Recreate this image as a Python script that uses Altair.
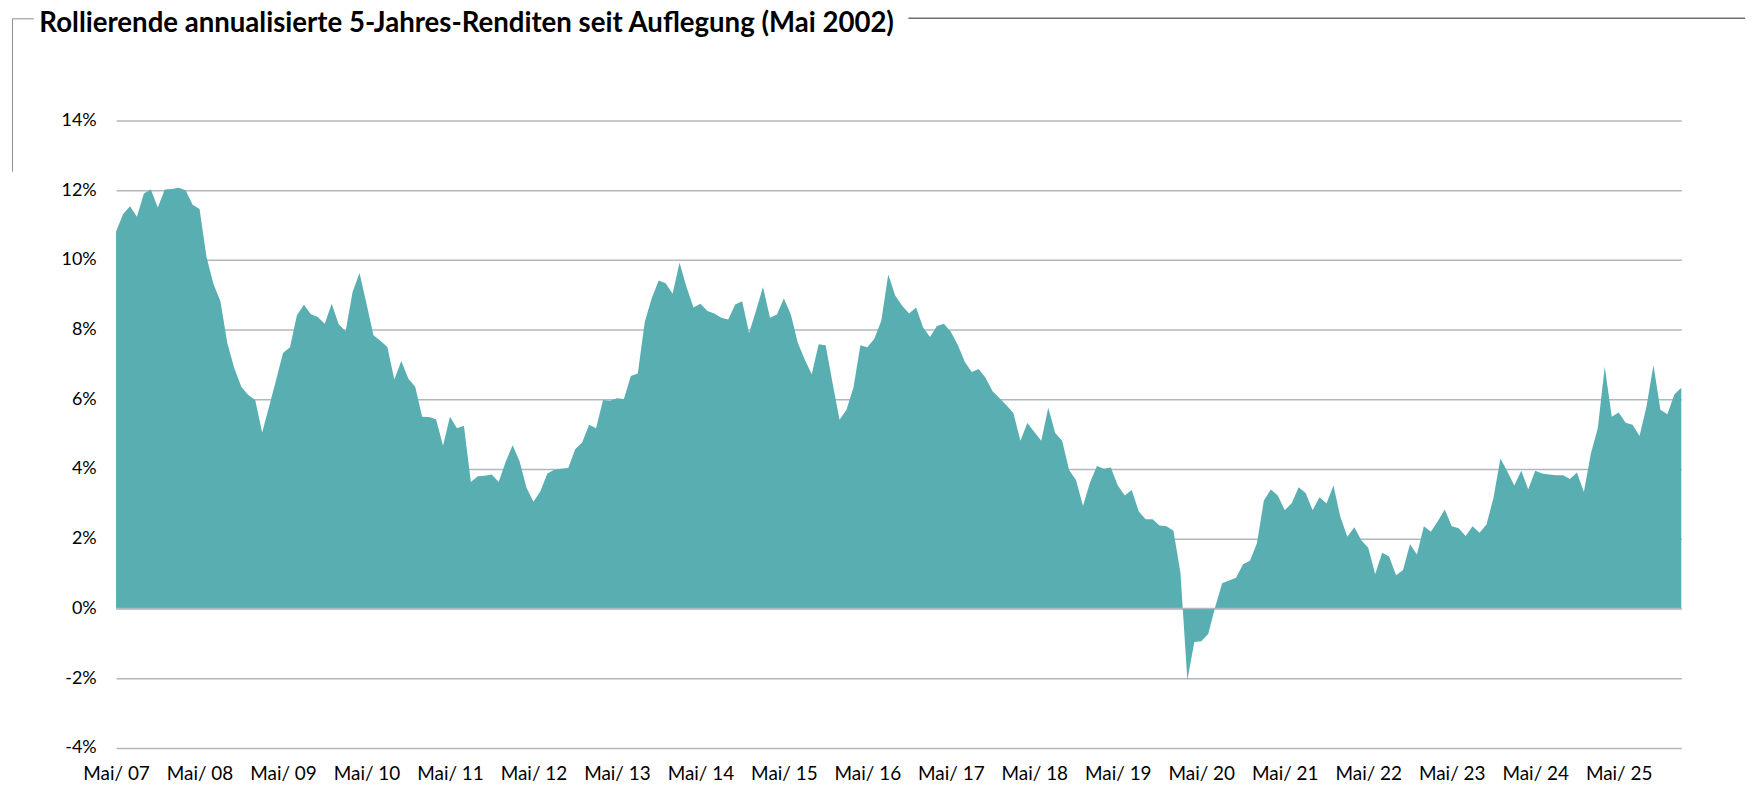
import altair as alt
import pandas as pd

title_text = "Rollierende annualisierte 5-Jahres-Renditen seit Auflegung (Mai 2002)"

# Monthly rolling 5-year annualised returns in %, May 2007 ... Feb 2026
returns_2007_2009 = [10.81, 11.31, 11.54, 11.24, 11.90, 12.02, 11.50, 12.02, 12.03, 12.07, 12.00, 11.58,
                     11.46, 10.08, 9.31, 8.81, 7.60, 6.89, 6.36, 6.12, 5.98, 5.05, 5.79, 6.55,
                     7.33, 7.49, 8.41, 8.71, 8.44, 8.36, 8.17, 8.74, 8.15, 7.95, 9.08, 9.62]
returns_2010_2012 = [8.74, 7.84, 7.68, 7.50, 6.57, 7.10, 6.60, 6.36, 5.50, 5.49, 5.43, 4.67,
                     5.50, 5.17, 5.24, 3.63, 3.79, 3.81, 3.84, 3.63, 4.20, 4.68, 4.22, 3.46,
                     3.06, 3.36, 3.87, 3.98, 4.01, 4.03, 4.57, 4.76, 5.27, 5.17, 5.98, 5.96]
returns_2013_2015 = [6.03, 6.01, 6.67, 6.74, 8.22, 8.90, 9.41, 9.33, 9.03, 9.92, 9.22, 8.63,
                     8.74, 8.53, 8.46, 8.34, 8.29, 8.72, 8.81, 7.90, 8.55, 9.22, 8.34, 8.43,
                     8.89, 8.43, 7.62, 7.14, 6.72, 7.58, 7.55, 6.46, 5.41, 5.70, 6.34, 7.55]
returns_2016_2018 = [7.49, 7.74, 8.25, 9.58, 8.98, 8.68, 8.46, 8.63, 8.07, 7.79, 8.10, 8.17,
                     7.94, 7.56, 7.08, 6.78, 6.87, 6.61, 6.23, 6.03, 5.83, 5.60, 4.81, 5.32,
                     5.06, 4.81, 5.76, 5.03, 4.81, 3.97, 3.68, 2.94, 3.61, 4.09, 4.01, 4.04]
returns_2019_2021 = [3.53, 3.24, 3.40, 2.79, 2.56, 2.56, 2.38, 2.36, 2.23, 1.03, -2.05, -0.96,
                     -0.94, -0.73, 0.04, 0.72, 0.80, 0.88, 1.27, 1.37, 1.87, 3.10, 3.41, 3.24,
                     2.82, 3.02, 3.48, 3.31, 2.82, 3.19, 3.01, 3.53, 2.62, 2.06, 2.33, 1.96]
returns_2022_2024 = [1.74, 0.98, 1.60, 1.49, 0.95, 1.10, 1.84, 1.55, 2.36, 2.20, 2.50, 2.84,
                     2.36, 2.30, 2.08, 2.36, 2.17, 2.41, 3.17, 4.30, 3.93, 3.53, 3.95, 3.41,
                     3.95, 3.87, 3.84, 3.82, 3.82, 3.71, 3.90, 3.34, 4.44, 5.17, 6.93, 5.50]
returns_2025_2026 = [5.62, 5.33, 5.27, 4.95, 5.79, 6.98, 5.70, 5.57, 6.14, 6.33]

returns = (returns_2007_2009 + returns_2010_2012 + returns_2013_2015 + returns_2016_2018
           + returns_2019_2021 + returns_2022_2024 + returns_2025_2026)

tick_labels = ["Mai/ 07", "Mai/ 08", "Mai/ 09", "Mai/ 10", "Mai/ 11", "Mai/ 12", "Mai/ 13",
               "Mai/ 14", "Mai/ 15", "Mai/ 16", "Mai/ 17", "Mai/ 18", "Mai/ 19", "Mai/ 20",
               "Mai/ 21", "Mai/ 22", "Mai/ 23", "Mai/ 24", "Mai/ 25"]
y_ticks = [-4, -2, 0, 2, 4, 6, 8, 10, 12, 14]

df = pd.DataFrame({"m": list(range(len(returns))), "r": returns})
tick_positions = [12 * k for k in range(len(tick_labels))]
label_arr = "[" + ",".join("'%s'" % t for t in tick_labels) + "]"

W, H = 1571.5, 630
FONT = "Lato"
GRID = "#AEB8BE"

x_scale = alt.Scale(domain=[0, len(returns) - 1], nice=False, zero=False)
y_scale = alt.Scale(domain=[-4, 14], nice=False)

area = alt.Chart(df).mark_area(color="#58AEB1", opacity=1).encode(
    x=alt.X("m:Q", scale=x_scale,
            axis=alt.Axis(values=tick_positions, labelExpr=f"{label_arr}[round(datum.value/12)]",
                          title=None, grid=False, domain=False, ticks=False, labelFontSize=19,
                          labelColor="#000000", labelFont=FONT, labelPadding=17, labelAngle=0,
                          labelOverlap=False, labelFlush=False, labelBound=False)),
    y=alt.Y("r:Q", scale=y_scale,
            axis=alt.Axis(values=y_ticks, labelExpr="datum.value + '%'", title=None, grid=True,
                          gridColor=GRID, gridWidth=1.5, domain=False, ticks=False,
                          labelFontSize=18, labelPadding=20, labelColor="#000000", labelFont=FONT)),
)

zero_line = alt.Chart(pd.DataFrame({"z": [0]})).mark_rule(color=GRID, strokeWidth=1.5).encode(
    y=alt.Y("z:Q", scale=y_scale)
)

one = pd.DataFrame({"a": [0]})
frame_v = alt.Chart(one).mark_rule(color="#8C8C8C", strokeWidth=1).encode(
    x=alt.value(-104), y=alt.value(-102), y2=alt.value(51.5))
frame_h = alt.Chart(one).mark_rule(color="#8C8C8C", strokeWidth=1).encode(
    x=alt.value(-104), x2=alt.value(-82.5), y=alt.value(-102))
frame_r = alt.Chart(one).mark_rule(color="#6E6E6E", strokeWidth=1.5).encode(
    x=alt.value(795.5), x2=alt.value(1635.5), y=alt.value(-102.5))

title_mark = alt.Chart(pd.DataFrame({"t": [title_text]})).mark_text(
    align="left", baseline="alphabetic", font=FONT, fontSize=27.7, fontWeight="bold", color="#000000"
).encode(x=alt.value(-77), y=alt.value(-88.5), text="t:N")

chart = alt.layer(area, zero_line, frame_v, frame_h, frame_r, title_mark).properties(
    width=W, height=H,
    autosize=alt.AutoSizeParams(type="none"),
    padding={"left": 108.5, "top": 111.3, "right": 70, "bottom": 39},
).configure_view(stroke=None)

chart.save("out.html", embed_options={"renderer": "svg", "actions": False})
